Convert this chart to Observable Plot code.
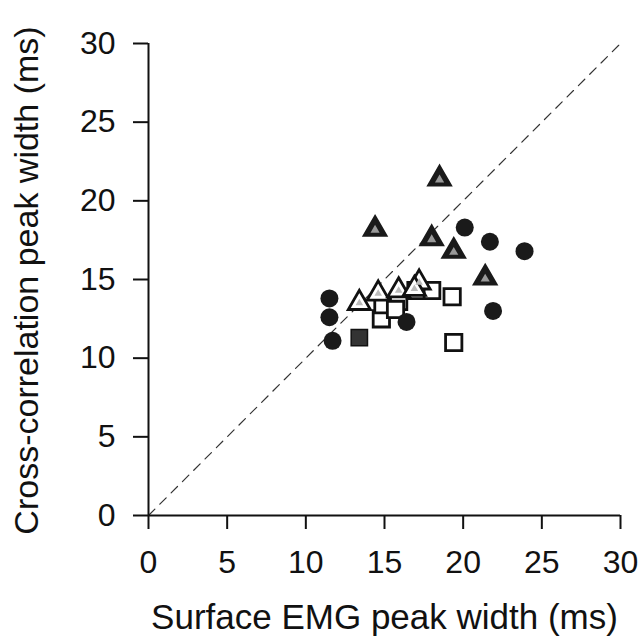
<!DOCTYPE html>
<html>
<head>
<meta charset="utf-8">
<script src="https://cdn.jsdelivr.net/npm/d3@7"></script>
<script src="https://cdn.jsdelivr.net/npm/@observablehq/plot@0.6"></script>
<style>
  html, body { margin: 0; padding: 0; background: #fff; }
  svg { display: block; }
</style>
</head>
<body>
<div id="chart"></div>
<script>
const xTicks = [0, 5, 10, 15, 20, 25, 30];
const yTicks = [0, 5, 10, 15, 20, 25, 30];
const xLabel = "Surface EMG peak width (ms)";
const yLabel = "Cross-correlation peak width (ms)";

const filledTriX = [18.5, 14.4, 18.0, 19.4, 21.4];
const filledTriY = [21.4, 18.2, 17.6, 16.8, 15.1];

const filledCircX = [20.1, 21.7, 23.9, 21.9, 11.5, 11.5, 11.7, 16.4];
const filledCircY = [18.3, 17.4, 16.8, 13.0, 13.8, 12.6, 11.1, 12.3];

const filledSqX = [13.4];
const filledSqY = [11.3];

const openSqX = [14.8, 14.9, 15.9, 15.7, 18.0, 19.3, 19.4, 17.0];
const openSqY = [12.5, 13.4, 13.6, 13.1, 14.3, 13.9, 11.0, 14.3];

const openTriX = [13.4, 14.6, 15.9, 17.2, 16.9];
const openTriY = [13.5, 14.1, 14.3, 14.8, 14.4];

const diagX = [0, 30];
const diagY = [0, 30];

const zip = (xs, ys) => xs.map((x, i) => ({x, y: ys[i]}));

const font = "Liberation Sans, Arial, Helvetica, sans-serif";

const chart = Plot.plot({
  width: 641,
  height: 642,
  marginLeft: 148,
  marginRight: 21,
  marginTop: 43,
  marginBottom: 127,
  style: {fontFamily: font, fontSize: "32px", background: "#fff", color: "#111"},
  x: {domain: [0, 30]},
  y: {domain: [0, 30]},
  marks: [
    Plot.line(zip(diagX, diagY), {x: "x", y: "y", stroke: "#333", strokeWidth: 1.2, strokeDasharray: "9,7"}),
    Plot.ruleY([0], {x1: 0, x2: 30, stroke: "#111", strokeWidth: 2}),
    Plot.ruleX([0], {y1: 0, y2: 30, stroke: "#111", strokeWidth: 2}),
    Plot.axisX({ticks: xTicks, tickSize: 14, tickPadding: 21, fontSize: 32, strokeWidth: 2,
      label: null, tickFormat: d => String(d)}),
    Plot.axisY({ticks: yTicks, tickSize: 15, tickPadding: 18, fontSize: 32, strokeWidth: 2,
      label: null, tickFormat: d => String(d)}),
    Plot.text([xLabel], {text: d => d, frameAnchor: "bottom", dy: 113, fontSize: 35, fill: "#111", textAnchor: "middle"}),
    Plot.text([yLabel], {text: d => d, frameAnchor: "left", dx: -121, dy: 1, rotate: -90, fontSize: 34, fill: "#111", textAnchor: "middle"}),
    // open squares
    Plot.dot(zip(openSqX, openSqY), {x: "x", y: "y", symbol: "square", r: 9.2, fill: "white", stroke: "#111", strokeWidth: 2.8}),
    // open triangles
    Plot.dot(zip(openTriX, openTriY), {x: "x", y: "y", symbol: "triangle", r: 8.2, fill: "white", stroke: "#111", strokeWidth: 2.8}),
    Plot.dot(zip(openTriX, openTriY), {x: "x", y: "y", symbol: "triangle", r: 2.8, fill: "#bbb", stroke: "none"}),
    // filled square
    Plot.dot(zip(filledSqX, filledSqY), {x: "x", y: "y", symbol: "square", r: 9.2, fill: "#333", stroke: "#111", strokeWidth: 1.5}),
    // filled circles
    Plot.dot(zip(filledCircX, filledCircY), {x: "x", y: "y", symbol: "circle", r: 9, fill: "#1a1a1a", stroke: "none"}),
    // filled (hatched) triangles
    Plot.dot(zip(filledTriX, filledTriY), {x: "x", y: "y", symbol: "triangle", r: 8.2, fill: "#1a1a1a", stroke: "#1a1a1a", strokeWidth: 2.5}),
    Plot.dot(zip(filledTriX, filledTriY), {x: "x", y: "y", symbol: "triangle", r: 3.4, fill: "#999", stroke: "none", dy: 1})
  ]
});

document.getElementById("chart").appendChild(chart);
</script>
</body>
</html>
